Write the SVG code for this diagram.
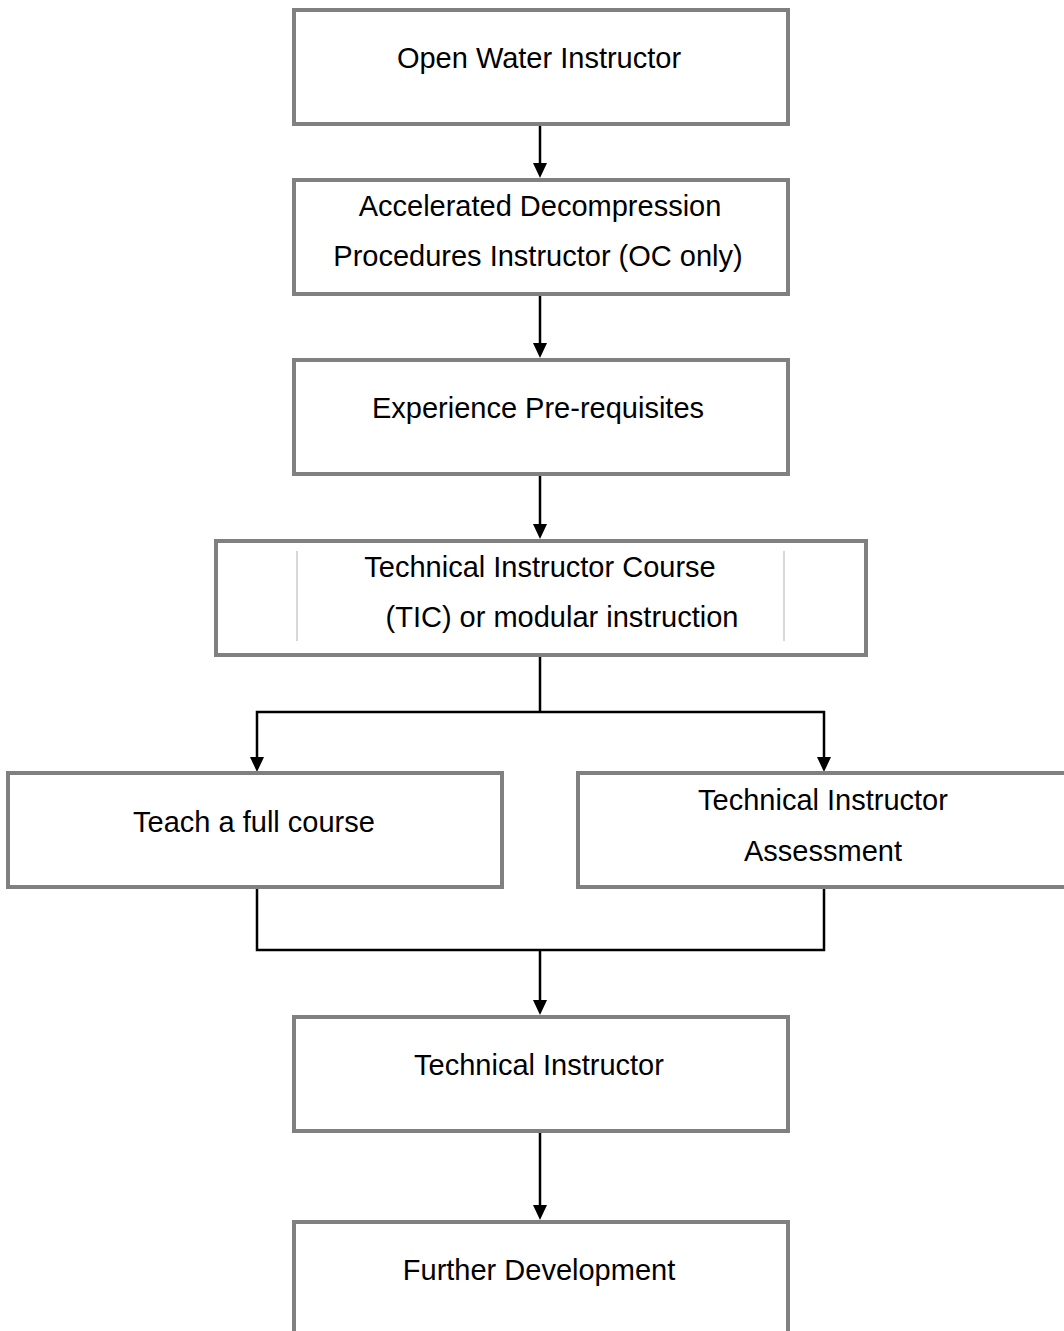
<svg xmlns="http://www.w3.org/2000/svg" width="1064" height="1331" viewBox="0 0 1064 1331">
<style>
.box{fill:#fff;stroke:#808080;stroke-width:4}
.t{font-family:"Liberation Sans",Arial,sans-serif;font-size:29px;fill:#000;text-anchor:middle}
.c{fill:none;stroke:#000;stroke-width:2.5}
.thin{stroke:#b0b0b0;stroke-width:1}
.ah{fill:#000}
</style>
<rect width="1064" height="1331" fill="#fff"/>
<g id="connectors">
<path class="c" d="M540,124 V166"/>
<path class="c" d="M540,294 V346"/>
<path class="c" d="M540,474 V527"/>
<path class="c" d="M540,655 V712 M257,760 V712 H824 V760"/>
<path class="c" d="M257,887 V950 H824 V887 M540,950 V1003"/>
<path class="c" d="M540,1131 V1208"/>
<path class="ah" d="M533,163 L547,163 L540,178 Z"/>
<path class="ah" d="M533,343 L547,343 L540,358 Z"/>
<path class="ah" d="M533,524 L547,524 L540,539 Z"/>
<path class="ah" d="M250,757 L264,757 L257,772 Z"/>
<path class="ah" d="M817,757 L831,757 L824,772 Z"/>
<path class="ah" d="M533,1000 L547,1000 L540,1015 Z"/>
<path class="ah" d="M533,1205 L547,1205 L540,1220 Z"/>
</g>
<g id="n1"><rect class="box" x="294" y="10" width="494" height="114"/><text class="t" x="539" y="68">Open Water Instructor</text></g>
<g id="n2"><rect class="box" x="294" y="180" width="494" height="114"/><text class="t" x="540" y="216">Accelerated Decompression</text><text class="t" x="538" y="266">Procedures Instructor (OC only)</text></g>
<g id="n3"><rect class="box" x="294" y="360" width="494" height="114"/><text class="t" x="538" y="418">Experience Pre-requisites</text></g>
<g id="n4"><rect class="box" x="216" y="541" width="650" height="114"/><line class="thin" x1="297" y1="551" x2="297" y2="641"/><line class="thin" x1="784" y1="551" x2="784" y2="641"/><text class="t" x="540" y="577">Technical Instructor Course</text><text class="t" x="562" y="627">(TIC) or modular instruction</text></g>
<g id="n5"><rect class="box" x="8" y="773" width="494" height="114"/><text class="t" x="254" y="832">Teach a full course</text></g>
<g id="n6"><rect class="box" x="578" y="773" width="494" height="114"/><text class="t" x="823" y="810">Technical Instructor</text><text class="t" x="823" y="861">Assessment</text></g>
<g id="n7"><rect class="box" x="294" y="1017" width="494" height="114"/><text class="t" x="539" y="1075">Technical Instructor</text></g>
<g id="n8"><rect class="box" x="294" y="1222" width="494" height="120"/><text class="t" x="539" y="1280">Further Development</text></g>
</svg>
